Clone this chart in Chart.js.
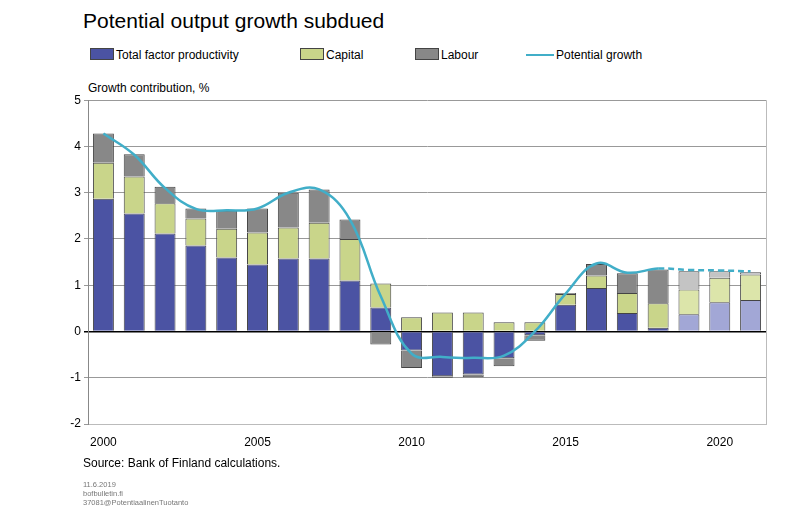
<!DOCTYPE html>
<html>
<head>
<meta charset="utf-8">
<script src="https://cdn.jsdelivr.net/npm/chart.js@4"></script>
<style>
  body { margin: 0; width: 801px; height: 524px; background: #fff; font-family: Arial, "Liberation Sans", sans-serif; position: relative; overflow: hidden; }
  #title { position: absolute; left: 83px; top: 9px; font-size: 21px; color: #000; }
  #legend { position: absolute; left: 90px; top: 48px; font-size: 12px; }
  .item { position: absolute; top: 0; white-space: nowrap; }
  .box { display: inline-block; width: 22px; height: 10px; border: 1px solid #444; vertical-align: -1px; margin-right: 2px; }
  .ln { display: inline-block; width: 28px; height: 2px; background: #41aec8; vertical-align: 3px; margin-right: 2px; }
  #ytitle { position: absolute; left: 88px; top: 81px; font-size: 12px; }
  #wrap { position: absolute; left: 0; top: 90px; width: 801px; height: 390px; }
  #source { position: absolute; left: 83px; top: 456px; font-size: 12px; }
  #meta { position: absolute; left: 83px; top: 480px; font-size: 7.5px; color: #777; line-height: 9px; }
</style>
</head>
<body>
<div id="title">Potential output growth subdued</div>
<div id="legend">
  <div class="item" style="left:0"><span class="box" style="background:#4b53a3"></span>Total factor productivity</div>
  <div class="item" style="left:210px"><span class="box" style="background:#c9d58a"></span>Capital</div>
  <div class="item" style="left:325px"><span class="box" style="background:#888888"></span>Labour</div>
  <div class="item" style="left:436px"><span class="ln"></span>Potential growth</div>
</div>
<div id="ytitle">Growth contribution, %</div>
<div id="wrap"><canvas id="c"></canvas></div>
<div id="source">Source: Bank of Finland calculations.</div>
<div id="meta">11.6.2019<br>bofbulletin.fi<br>37081@PotentiaalinenTuotanto</div>
<script>
const years = ['2000','2001','2002','2003','2004','2005','2006','2007','2008','2009','2010',
  '2011','2012','2013','2014','2015','2016','2017','2018','2019','2020','2021'];
const tfp = [2.87, 2.55, 2.12, 1.86, 1.6, 1.45, 1.58, 1.58, 1.1, 0.52, -0.41,
  -0.97, -0.93, -0.58, -0.08, 0.58, 0.94, 0.4, 0.08, 0.37, 0.63, 0.68];
const capital = [0.78, 0.8, 0.65, 0.58, 0.62, 0.69, 0.67, 0.77, 0.9, 0.52, 0.31,
  0.41, 0.41, 0.2, 0.2, 0.23, 0.27, 0.43, 0.53, 0.54, 0.53, 0.55];
const labour = [0.63, 0.48, 0.36, 0.22, 0.39, 0.52, 0.75, 0.72, 0.42, -0.28, -0.38,
  -0.03, -0.06, -0.17, -0.12, 0.02, 0.25, 0.43, 0.73, 0.39, 0.14, 0.05];
const potential = [4.28, 3.82, 3.1, 2.65, 2.62, 2.66, 3.0, 3.07, 2.42, 0.76, -0.48,
  -0.55, -0.57, -0.52, 0.0, 0.82, 1.47, 1.27, 1.36, 1.33, 1.32, 1.3];
const forecastStart = 19;

function cols(base, light) {
  return years.map((y, i) => i >= forecastStart ? light : base);
}

new Chart(document.getElementById('c'), {
  data: {
    labels: years,
    datasets: [
      { type: 'line', label: 'Potential growth', data: potential, borderColor: '#41aec8', borderWidth: 2.5,
        pointRadius: 0, tension: 0.4, fill: false, order: 0,
        segment: { borderDash: ctx => ctx.p0DataIndex >= forecastStart - 1 ? [6, 4] : undefined } },
      { type: 'bar', label: 'Total factor productivity', data: tfp, backgroundColor: cols('#4b53a3', '#a2a7d6'), stack: 's', order: 1 },
      { type: 'bar', label: 'Capital', data: capital, backgroundColor: cols('#c9d58a', '#dce5aa'), stack: 's', order: 1 },
      { type: 'bar', label: 'Labour', data: labour, backgroundColor: cols('#888888', '#c4c4c4'), stack: 's', order: 1 }
    ].map(d => d.type === 'bar' ? Object.assign(d, { borderColor: '#444', borderWidth: 1, barPercentage: 0.68, categoryPercentage: 1 }) : d)
  },
  options: {
    responsive: true, maintainAspectRatio: false, animation: false,
    layout: { padding: { top: 10, right: 35, bottom: 26, left: 0 } },
    plugins: { legend: { display: false }, tooltip: { enabled: false } },
    scales: {
      x: {
        stacked: true,
        grid: { display: false },
        border: { color: '#bbb' },
        ticks: { autoSkip: false, maxRotation: 0, color: '#000', font: { size: 12, family: 'Arial' },
          callback: function (v, i) { return Number(years[i]) % 5 === 0 ? years[i] : ''; } },
        afterFit: s => { s.height = 30; }
      },
      y: {
        stacked: true, min: -2, max: 5,
        ticks: { stepSize: 1, color: '#000', font: { size: 12, family: 'Arial' } },
        grid: { color: ctx => ctx.tick.value === 0 ? '#000' : '#999', lineWidth: ctx => ctx.tick.value === 0 ? 1.5 : 1, drawTicks: true, tickLength: 4 },
        border: { color: '#888' },
        afterFit: s => { s.width = 88; }
      }
    }
  },
  plugins: [{
    id: 'frame',
    afterDraw(chart) {
      const a = chart.chartArea, c = chart.ctx;
      c.save(); c.strokeStyle = '#bbb'; c.lineWidth = 1;
      c.beginPath(); c.moveTo(a.right + 0.5, a.top); c.lineTo(a.right + 0.5, a.bottom); c.stroke();
      c.restore();
    }
  }]
});
</script>
</body>
</html>
